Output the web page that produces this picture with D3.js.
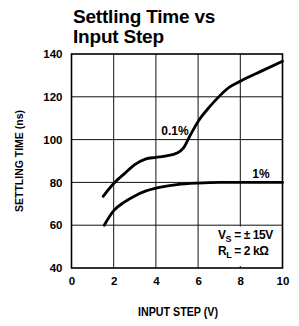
<!DOCTYPE html>
<html><head><meta charset="utf-8">
<script src="https://cdn.jsdelivr.net/npm/d3@7"></script>
<style>
html,body{margin:0;padding:0;background:#fff;}
svg{display:block;font-family:"Liberation Sans",Arial,sans-serif;}
</style></head>
<body>
<svg id="c" width="299" height="326"></svg>
<script>
const xTicks = [0, 2, 4, 6, 8, 10];
const yTicks = [40, 60, 80, 100, 120, 140];
const s01x = [1.5, 2, 2.5, 3, 3.5, 4, 4.5, 5, 5.3, 5.6, 6, 6.5, 7, 7.5, 8, 9, 10];
const s01y = [73.5, 79.5, 84, 88.3, 90.9, 91.7, 92.4, 93.7, 96, 101.5, 108.5, 114.8, 120.2, 124.6, 127.3, 132, 136.6];
const s1x = [1.55, 2, 2.5, 3, 3.5, 4, 4.5, 5, 6, 7, 8, 9, 10];
const s1y = [60, 66.8, 70.8, 73.7, 75.9, 77.3, 78.3, 79, 79.7, 80, 80, 80, 80];

const svg = d3.select("#c");
const L = 71.5, R = 282.5, T = 54, B = 268;
const x = d3.scaleLinear().domain([0, 10]).range([L, R]);
const y = d3.scaleLinear().domain([40, 140]).range([B, T]);

// title
const title = svg.append("text").attr("x", 73).attr("font-size", 19).attr("font-weight", "bold")
  .attr("letter-spacing", -0.2);
title.append("tspan").attr("x", 73).attr("y", 23).text("Settling Time vs");
title.append("tspan").attr("x", 73).attr("y", 43).text("Input Step");

// grid
const g = svg.append("g");
g.selectAll(".vx").data(xTicks.slice(1, -1)).join("line")
  .attr("x1", d => x(d)).attr("x2", d => x(d)).attr("y1", T).attr("y2", B)
  .attr("stroke", "#111").attr("stroke-width", 1);
g.selectAll(".hy").data(yTicks.slice(1, -1)).join("line")
  .attr("x1", L).attr("x2", R).attr("y1", d => y(d)).attr("y2", d => y(d))
  .attr("stroke", "#111").attr("stroke-width", 1);
// white box behind conditions text
g.append("rect").attr("x", 211).attr("y", 226.5).attr("width", 70).attr("height", 39.5).attr("fill", "#fff");
g.append("rect").attr("x", L).attr("y", T).attr("width", R - L).attr("height", B - T)
  .attr("fill", "none").attr("stroke", "#000").attr("stroke-width", 1.6);

// axes labels via d3 axes
const yAxis = d3.axisLeft(y).tickValues(yTicks).tickSize(0).tickPadding(9);
const ya = svg.append("g").attr("transform", `translate(${L},0)`).call(yAxis);
ya.select(".domain").remove();
ya.selectAll("text").attr("font-size", 11.5).attr("font-weight", "bold").attr("fill", "#000")
  .attr("font-family", "Liberation Sans, Arial, sans-serif");
const xAxis = d3.axisBottom(x).tickValues(xTicks).tickSize(0).tickPadding(9);
const xa = svg.append("g").attr("transform", `translate(0,${B})`).call(xAxis);
xa.select(".domain").remove();
xa.selectAll("text").attr("font-size", 11.5).attr("font-weight", "bold").attr("fill", "#000")
  .attr("font-family", "Liberation Sans, Arial, sans-serif");

// axis titles
svg.append("text").attr("transform", "translate(23,161) rotate(-90)")
  .attr("text-anchor", "middle").attr("font-size", 11).attr("font-weight", "bold")
  .attr("textLength", 102).attr("lengthAdjust", "spacingAndGlyphs")
  .text("SETTLING TIME (ns)");
svg.append("text").attr("x", 178).attr("y", 316)
  .attr("text-anchor", "middle").attr("font-size", 12).attr("font-weight", "bold")
  .attr("textLength", 80).attr("lengthAdjust", "spacingAndGlyphs")
  .text("INPUT STEP (V)");

// curves
const line = d3.line().x(d => x(d[0])).y(d => y(d[1])).curve(d3.curveMonotoneX);
svg.append("path").attr("d", line(d3.zip(s01x, s01y)))
  .attr("fill", "none").attr("stroke", "#000").attr("stroke-width", 2.8).attr("stroke-linecap", "round");
svg.append("path").attr("d", line(d3.zip(s1x, s1y)))
  .attr("fill", "none").attr("stroke", "#000").attr("stroke-width", 2.8).attr("stroke-linecap", "round");

// annotations
svg.append("text").attr("x", 175).attr("y", 135).attr("text-anchor", "middle")
  .attr("font-size", 12).attr("font-weight", "bold").text("0.1%");
svg.append("text").attr("x", 261).attr("y", 178).attr("text-anchor", "middle")
  .attr("font-size", 12).attr("font-weight", "bold").text("1%");
const vs = svg.append("text").attr("x", 218).attr("y", 239).attr("font-size", 12).attr("font-weight", "bold")
  .attr("letter-spacing", -0.4);
vs.append("tspan").text("V");
vs.append("tspan").attr("font-size", 9).attr("dy", 3).text("S");
vs.append("tspan").attr("dy", -3).text(" = ± 15V");
const rl = svg.append("text").attr("x", 218).attr("y", 255).attr("font-size", 12).attr("font-weight", "bold")
  .attr("letter-spacing", -0.4);
rl.append("tspan").text("R");
rl.append("tspan").attr("font-size", 9).attr("dy", 3).text("L");
rl.append("tspan").attr("dy", -3).text(" = 2 kΩ");
</script>
</body></html>
